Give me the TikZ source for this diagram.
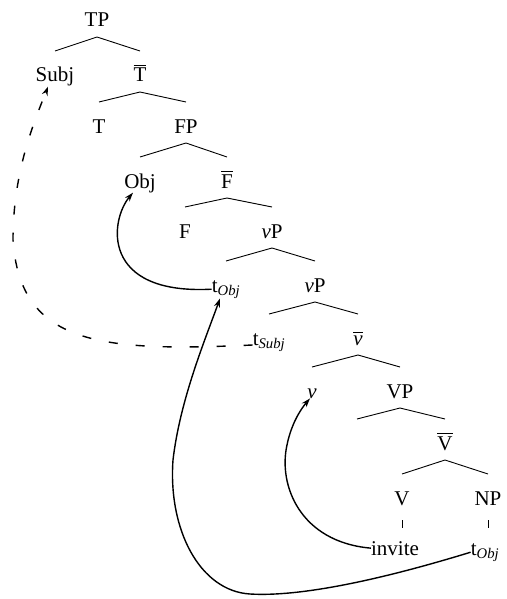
\documentclass[tikz,border=0pt]{standalone}
\usepackage{fontspec}
\setmainfont{Liberation Serif}
\usetikzlibrary{arrows.meta,calc}
\tikzset{
  lab/.style={anchor=base,inner sep=0pt,font=\fontsize{21}{25}\selectfont},
  branch/.style={line width=0.9pt},
  tick/.style={line width=0.9pt},
  move/.style={line width=1.4pt,-{Stealth[length=9pt,width=6pt]}},
  dmove/.style={move,dash pattern=on 9pt off 18pt}
}
\newcommand\brnch[3]{\draw[branch] ([yshift=31pt]#2.base) -- ([yshift=-10pt]#1.base) -- ([yshift=31pt]#3.base);}
\newcommand\sbs[1]{\textsubscript{\textit{#1}}}
\newcommand\barred[1]{\vbox{\hrule height 1.2pt\kern 2.5pt\hbox{#1}}}
\begin{document}
\begin{tikzpicture}[x=1pt,y=-1pt]
\useasboundingbox (0,0) rectangle (506,599);
\node[lab] (TP) at (97,27) {TP};
\node[lab] (Subj) at (55,82) {Subj};
\node[lab] (Tb) at (140,82) {\barred{T}};
\node[lab] (T) at (99,133) {T};
\node[lab] (FP) at (186,133) {FP};
\node[lab] (Obj) at (140,188) {Obj};
\node[lab] (Fb) at (227,188) {\barred{F}};
\node[lab] (F) at (185,238) {F};
\node[lab] (vP1) at (272,238) {\textit{v}P};
\node[lab] (tO1) at (226,292) {t\sbs{Obj}};
\node[lab] (vP2) at (315,292) {\textit{v}P};
\node[lab] (tS) at (269,345) {t\sbs{Subj}};
\node[lab] (vb) at (358,345) {\barred{\textit{v}}};
\node[lab] (v) at (312,398) {\textit{v}};
\node[lab] (VP) at (400,398) {VP};
\node[lab] (VPl) at (357,450) {};
\node[lab] (Vb) at (445,450) {\barred{V}};
\node[lab] (V) at (402,505) {V};
\node[lab] (NP) at (488,505) {NP};
\node[lab] (inv) at (395,555) {invite};
\node[lab] (tO2) at (485,555) {t\sbs{Obj}};
\brnch{TP}{Subj}{Tb}
\brnch{Tb}{T}{FP}
\brnch{FP}{Obj}{Fb}
\brnch{Fb}{F}{vP1}
\brnch{vP1}{tO1}{vP2}
\brnch{vP2}{tS}{vb}
\brnch{vb}{v}{VP}
\brnch{VP}{VPl}{Vb}
\brnch{Vb}{V}{NP}
\draw[tick] ([yshift=-15pt]V.base) -- ($(V.base |- inv.base)+(0,-27)$);
\draw[tick] ([yshift=-15pt]NP.base) -- ($(NP.base |- tO2.base)+(0,-27)$);
% movement arrows
\draw[dmove] (tS.base west) .. controls (100,352) and (20,345) .. (13,240)
  .. controls (13,170) and (35,120) .. ([xshift=-7pt]Subj.south);
\draw[move] (tO1.west) .. controls (100,295) and (110,220) .. ([xshift=-7pt]Obj.south);
\draw[move] (tO2.west) .. controls (380,580) and (300,597) .. (250,594)
  .. controls (200,591) and (168,530) .. (173,460)
  .. controls (180,400) and (205,340) .. ([xshift=-6pt]tO1.south);
\draw[move] (inv.west) .. controls (300,542) and (278,485) .. (287,445)
  .. controls (291,425) and (300,410) .. ([xshift=-2pt]v.south);
\end{tikzpicture}
\end{document}
